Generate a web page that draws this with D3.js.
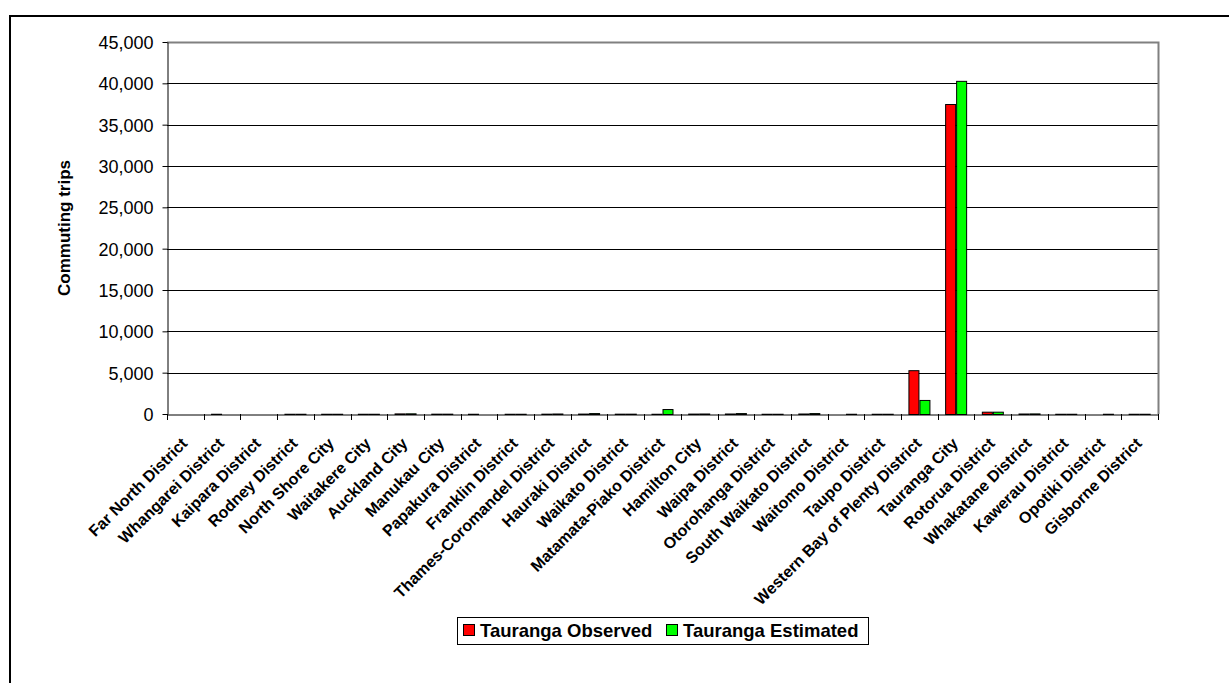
<!DOCTYPE html>
<html>
<head>
<meta charset="utf-8">
<script src="https://cdn.jsdelivr.net/npm/d3@7"></script>
<style>
  html, body { margin: 0; padding: 0; background: #fff; }
  svg { display: block; font-family: "Liberation Sans", Arial, sans-serif; }
</style>
</head>
<body>
<svg id="chart" width="1229" height="683"></svg>
<script>
// Territorial authorities of destination for commuting trips
const districts = [
  "Far North District", "Whangarei District", "Kaipara District", "Rodney District",
  "North Shore City", "Waitakere City", "Auckland City", "Manukau City",
  "Papakura District", "Franklin District", "Thames-Coromandel District", "Hauraki District",
  "Waikato District", "Matamata-Piako District", "Hamilton City", "Waipa District",
  "Otorohanga District", "South Waikato District", "Waitomo District", "Taupo District",
  "Western Bay of Plenty District", "Tauranga City", "Rotorua District", "Whakatane District",
  "Kawerau District", "Opotiki District", "Gisborne District"
];

const observed = [
  0, 30, 0, 30, 30, 30, 70, 40, 30, 30, 40, 50,
  40, 30, 50, 60, 30, 60, 0, 30, 5300, 37500, 280, 60,
  30, 0, 30
];

const estimated = [
  0, 0, 0, 30, 30, 30, 80, 40, 0, 30, 60, 110,
  40, 600, 60, 110, 30, 110, 30, 30, 1700, 40300, 280, 70,
  30, 30, 30
];

const yTicks = [0, 5000, 10000, 15000, 20000, 25000, 30000, 35000, 40000, 45000];

const seriesNames = ["Tauranga Observed", "Tauranga Estimated"];
const seriesColors = ["#ff0000", "#00ff00"];

const svg = d3.select("#chart");

// Outer chart frame
svg.append("rect")
  .attr("x", 10).attr("y", 16)
  .attr("width", 1240).attr("height", 700)
  .attr("fill", "#fff")
  .attr("stroke", "#000")
  .attr("stroke-width", 2);

const plot = { left: 167, top: 42, right: 1158, bottom: 414 };

const x = d3.scaleBand()
  .domain(districts)
  .range([plot.left, plot.right])
  .paddingInner(0).paddingOuter(0);

const y = d3.scaleLinear()
  .domain([0, 45000])
  .range([plot.bottom, plot.top]);

const fmt = d3.format(",");

// Horizontal gridlines
svg.append("g")
  .selectAll("line")
  .data(yTicks.filter(t => t > 0 && t < 45000))
  .join("line")
  .attr("x1", plot.left).attr("x2", plot.right)
  .attr("y1", d => Math.round(y(d)) + 0.5).attr("y2", d => Math.round(y(d)) + 0.5)
  .attr("stroke", "#000").attr("stroke-width", 1);

// Plot area border (top and right)
svg.append("path")
  .attr("d", `M${plot.left},${plot.top + 0.5}H${plot.right + 0.5}V${plot.bottom}`)
  .attr("fill", "none")
  .attr("stroke", "#808080")
  .attr("stroke-width", 2);

// Bars
const series = [observed, estimated];
const bw = 11;
const groups = svg.append("g");
series.forEach((vals, si) => {
  groups.append("g")
    .selectAll("rect")
    .data(districts.map((d, i) => ({ d, v: vals[i] })))
    .join("rect")
    .attr("x", r => x(r.d) + x.bandwidth() / 2 - bw + si * bw + 0.5)
    .attr("y", r => y(r.v) + 0.5)
    .attr("width", bw - 1)
    .attr("height", r => Math.max(0, y(0) - y(r.v)))
    .attr("fill", seriesColors[si])
    .attr("stroke", "#000")
    .attr("stroke-width", 1)
    .attr("visibility", r => r.v > 0 ? "visible" : "hidden");
});

// Y axis
const yAxis = svg.append("g")
  .attr("transform", `translate(${plot.left + 0.5},0)`)
  .call(d3.axisLeft(y).tickValues(yTicks).tickFormat(fmt).tickSize(5).tickSizeOuter(0));
yAxis.select(".domain").attr("stroke", "#000");
yAxis.selectAll(".tick line").attr("stroke", "#000");
yAxis.selectAll(".tick text")
  .attr("font-size", 18)
  .attr("fill", "#000")
  .attr("x", -14)
  .attr("dy", "0.36em")
  .style("font-family", "'Liberation Sans', Arial, sans-serif");

// X axis
const xAxis = svg.append("g")
  .attr("transform", `translate(0,${plot.bottom + 0.5})`)
  .call(d3.axisBottom(x).tickSize(0).tickSizeOuter(0));
xAxis.select(".domain").attr("stroke", "#000");

// Category boundary ticks
svg.append("g")
  .selectAll("line")
  .data(d3.range(districts.length + 1))
  .join("line")
  .attr("x1", i => Math.round(plot.left + i * x.step()) + 0.5)
  .attr("x2", i => Math.round(plot.left + i * x.step()) + 0.5)
  .attr("y1", plot.bottom).attr("y2", plot.bottom + 6)
  .attr("stroke", "#000");

xAxis.selectAll(".tick text")
  .attr("font-size", 16)
  .attr("font-weight", "bold")
  .attr("fill", "#000")
  .attr("text-anchor", "end")
  .attr("dy", 0)
  .attr("y", 0)
  .attr("transform", "translate(3,30) rotate(-45)")
  .style("font-family", "'Liberation Sans', Arial, sans-serif");

// Y axis title
svg.append("text")
  .attr("transform", `translate(70,${(plot.top + plot.bottom) / 2}) rotate(-90)`)
  .attr("text-anchor", "middle")
  .attr("font-size", 17)
  .attr("font-weight", "bold")
  .text("Commuting trips");

// Legend
const legend = svg.append("g");
legend.append("rect")
  .attr("x", 457.5).attr("y", 617.5)
  .attr("width", 411).attr("height", 27)
  .attr("fill", "#fff")
  .attr("stroke", "#000").attr("stroke-width", 1);
const legendX = [463, 666];
seriesNames.forEach((name, i) => {
  legend.append("rect")
    .attr("x", legendX[i] + 0.5).attr("y", 624.5)
    .attr("width", 11).attr("height", 11)
    .attr("fill", seriesColors[i])
    .attr("stroke", "#000");
  legend.append("text")
    .attr("x", legendX[i] + 17).attr("y", 637)
    .attr("font-size", 18.5)
    .attr("font-weight", "bold")
    .text(name);
});
</script>
</body>
</html>
